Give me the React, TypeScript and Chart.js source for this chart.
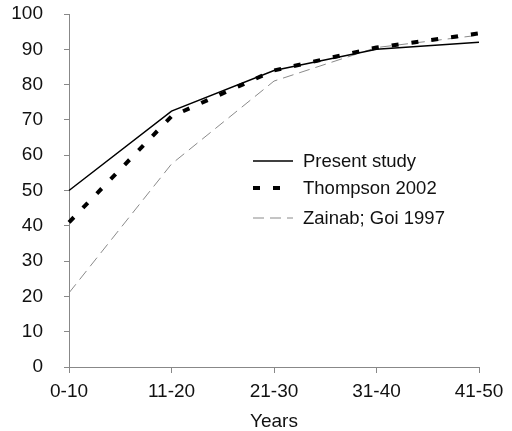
import React, { useEffect, useRef } from "react";
import { Chart, registerables } from "chart.js";

Chart.register(...registerables);

const categories = ["0-10", "11-20", "21-30", "31-40", "41-50"];
const presentStudy = [50, 72.5, 84, 90, 92];
const thompson2002 = [41, 71, 84, 90.5, 94.5];
const zainabGoi1997 = [21, 57.5, 81, 90.5, 94];
const seriesLabels = ["Present study", "Thompson 2002", "Zainab; Goi 1997"];
const yTicks = [0, 10, 20, 30, 40, 50, 60, 70, 80, 90, 100];

const FONT = "'Liberation Sans', Arial, sans-serif";

const insideLegend = {
  id: "insideLegend",
  afterDraw(chart: any) {
    const ctx = chart.ctx;
    const rows = [161, 188, 218];
    ctx.save();
    chart.data.datasets.forEach((ds: any, i: number) => {
      const y = rows[i];
      ctx.beginPath();
      ctx.strokeStyle = ds.borderColor;
      ctx.lineWidth = ds.borderWidth;
      ctx.setLineDash(ds.borderDash || []);
      ctx.moveTo(253, y);
      ctx.lineTo(293, y);
      ctx.stroke();
      ctx.setLineDash([]);
      ctx.fillStyle = "#111";
      ctx.font = `18.5px ${FONT}`;
      ctx.textBaseline = "middle";
      ctx.textAlign = "left";
      ctx.fillText(ds.label, 303, y + 1);
    });
    ctx.restore();
  },
};

export default function App() {
  const ref = useRef<HTMLCanvasElement | null>(null);
  useEffect(() => {
    document.body.style.margin = "0";
    const chart = new Chart(ref.current!, {
      type: "line",
      data: {
        labels: categories,
        datasets: [
          {
            label: seriesLabels[0],
            data: presentStudy,
            borderColor: "#000",
            borderWidth: 1.5,
            pointRadius: 0,
            tension: 0,
          },
          {
            label: seriesLabels[1],
            data: thompson2002,
            borderColor: "#000",
            borderWidth: 4,
            borderDash: [7, 13],
            pointRadius: 0,
            tension: 0,
          },
          {
            label: seriesLabels[2],
            data: zainabGoi1997,
            borderColor: "#8a8a8a",
            borderWidth: 1,
            borderDash: [11, 6],
            pointRadius: 0,
            tension: 0,
          },
        ],
      },
      options: {
        animation: false,
        responsive: true,
        maintainAspectRatio: false,
        layout: { padding: { top: 14, right: 33, left: 0, bottom: 0 } },
        plugins: {
          legend: { display: false },
          tooltip: { enabled: false },
        },
        scales: {
          x: {
            offset: false,
            grid: {
              display: true,
              drawOnChartArea: false,
              tickLength: 6,
              color: "#888",
            },
            border: { color: "#888", width: 1 },
            ticks: {
              color: "#111",
              font: { family: FONT, size: 19 },
              padding: 7,
              maxRotation: 0,
            },
            title: {
              display: true,
              text: "Years",
              color: "#111",
              font: { family: FONT, size: 19 },
              padding: { top: 5, bottom: -2 },
            },
            afterFit: (s: any) => {
              s.height = 431 - 367;
              s.paddingLeft = 0;
              s.paddingRight = 0;
            },
          },
          y: {
            min: 0,
            max: 100,
            afterBuildTicks: (s: any) => {
              s.ticks = yTicks.map((v) => ({ value: v }));
            },
            grid: {
              display: true,
              drawOnChartArea: false,
              tickLength: 5,
              color: "#888",
            },
            border: { color: "#888", width: 1 },
            ticks: {
              color: "#111",
              font: { family: FONT, size: 19 },
              padding: 21,
            },
            afterFit: (s: any) => {
              s.width = 69;
              s.paddingTop = 0;
              s.paddingBottom = 0;
            },
          },
        },
      },
      plugins: [insideLegend],
    });
    return () => chart.destroy();
  }, []);
  return (
    <div style={{ position: "relative", width: 512, height: 431 }}>
      <canvas ref={ref} />
    </div>
  );
}
